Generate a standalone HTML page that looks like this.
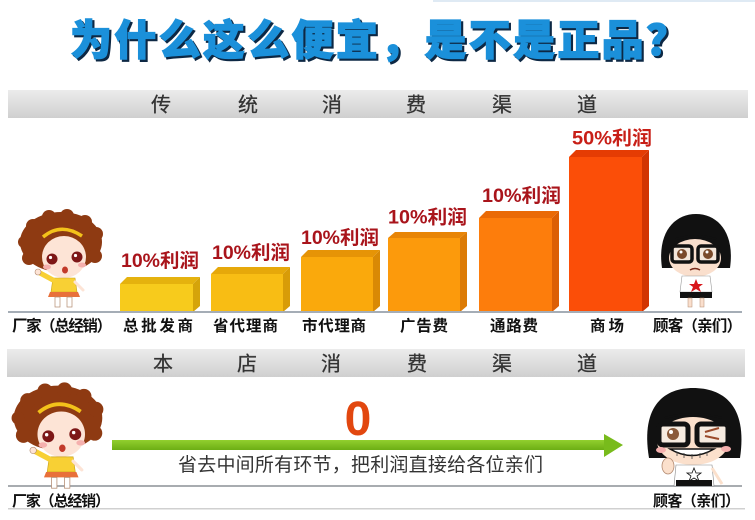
<!DOCTYPE html>
<html><head><meta charset="utf-8">
<style>
html,body{margin:0;padding:0;background:#fff;}
body{width:755px;height:520px;overflow:hidden;}
svg{display:block;}
</style></head>
<body>
<svg width="755" height="520" viewBox="0 0 755 520" xmlns="http://www.w3.org/2000/svg">
<defs>
<linearGradient id="ban" x1="0" y1="0" x2="0" y2="1">
<stop offset="0" stop-color="#ececec"/><stop offset="0.5" stop-color="#dedede"/><stop offset="1" stop-color="#cfcfcf"/>
</linearGradient>
<linearGradient id="arr" x1="0" y1="0" x2="0" y2="1">
<stop offset="0" stop-color="#92cf2e"/><stop offset="1" stop-color="#6cae14"/>
</linearGradient>
</defs>
<rect width="755" height="520" fill="#fff"/>
<rect x="433" y="0" width="322" height="2" fill="#dfeaf4"/>

<!-- Title -->
<g font-family="'Noto Sans CJK SC','WenQuanYi Zen Hei',sans-serif" font-weight="900" font-size="42">
<text x="72" y="57" textLength="618" lengthAdjust="spacing" fill="#0d2844" stroke="#0d2844" stroke-width="1.5">为什么这么便宜，是不是正品？</text>
<text x="70" y="55" textLength="618" lengthAdjust="spacing" fill="#1b90da" stroke="#1b90da" stroke-width="1.2">为什么这么便宜，是不是正品？</text>
</g>

<!-- Banner 1 -->
<rect x="8" y="90" width="740" height="28" fill="url(#ban)"/>
<g font-family="'Noto Sans CJK SC',sans-serif" font-size="20" fill="#333" text-anchor="middle" stroke="#333" stroke-width="0.3">
<text x="161" y="111.5">传</text><text x="248" y="111.5">统</text><text x="332" y="111.5">消</text>
<text x="416" y="111.5">费</text><text x="502" y="111.5">渠</text><text x="587" y="111.5">道</text>
</g>

<!-- Bars -->
<g>
<rect x="120" y="284" width="73" height="28" fill="#f7cb1c"/>
<polygon points="120,284 127,277 200,277 193,284" fill="#e5b20e"/>
<polygon points="193,284 200,277 200,306 193,312" fill="#d5a40a"/>

<rect x="211" y="274" width="72" height="38" fill="#f8bd14"/>
<polygon points="211,274 218,267 290,267 283,274" fill="#e6a80a"/>
<polygon points="283,274 290,267 290,306 283,312" fill="#d89c08"/>

<rect x="301" y="257" width="72" height="55" fill="#faa90c"/>
<polygon points="301,257 308,250 380,250 373,257" fill="#e69406"/>
<polygon points="373,257 380,250 380,306 373,312" fill="#d98905"/>

<rect x="388" y="238" width="72" height="74" fill="#fc9a0c"/>
<polygon points="388,238 395,232 467,232 460,238" fill="#e88506"/>
<polygon points="460,238 467,232 467,306 460,312" fill="#dc7b05"/>

<rect x="479" y="218" width="73" height="94" fill="#fd7d0c"/>
<polygon points="479,218 486,211 559,211 552,218" fill="#ea6a06"/>
<polygon points="552,218 559,211 559,306 552,312" fill="#dc5f05"/>

<rect x="569" y="157" width="73" height="155" fill="#fb4e08"/>
<polygon points="569,157 576,150 649,150 642,157" fill="#e53c03"/>
<polygon points="642,157 649,150 649,306 642,312" fill="#d23402"/>
</g>

<!-- Bar labels -->
<g font-family="'Liberation Sans','Noto Sans CJK SC',sans-serif" font-weight="bold" font-size="19" fill="#a9141b">
<text x="121" y="267" textLength="78" lengthAdjust="spacingAndGlyphs">10%利润</text>
<text x="212" y="259" textLength="78" lengthAdjust="spacingAndGlyphs">10%利润</text>
<text x="301" y="244" textLength="78" lengthAdjust="spacingAndGlyphs">10%利润</text>
<text x="388" y="223.5" textLength="79" lengthAdjust="spacingAndGlyphs">10%利润</text>
<text x="482" y="202" textLength="79" lengthAdjust="spacingAndGlyphs">10%利润</text>
<text x="572" y="144.5" textLength="80" lengthAdjust="spacingAndGlyphs" fill="#c81f17">50%利润</text>
</g>

<!-- baseline 1 -->
<rect x="8" y="311" width="734" height="2" fill="#a5adb6"/>

<!-- Bottom labels row 1 -->
<g font-family="'Noto Sans CJK SC',sans-serif" font-weight="bold" font-size="15.5" fill="#111">
<text x="12" y="331" textLength="100" lengthAdjust="spacing">厂家（总经销）</text>
<text x="123" y="331" textLength="70" lengthAdjust="spacing">总批发商</text>
<text x="213" y="331" textLength="65" lengthAdjust="spacing">省代理商</text>
<text x="302" y="331" textLength="64" lengthAdjust="spacing">市代理商</text>
<text x="400" y="331" textLength="48" lengthAdjust="spacing">广告费</text>
<text x="490" y="331" textLength="48" lengthAdjust="spacing">通路费</text>
<text x="590" y="331" textLength="34" lengthAdjust="spacing">商场</text>
<text x="653" y="331" textLength="89" lengthAdjust="spacing">顾客（亲们）</text>
</g>

<!-- Banner 2 -->
<rect x="7" y="349" width="738" height="28" fill="url(#ban)"/>
<g font-family="'Noto Sans CJK SC',sans-serif" font-size="20" fill="#333" text-anchor="middle" stroke="#333" stroke-width="0.3">
<text x="163" y="370.5">本</text><text x="247" y="370.5">店</text><text x="331" y="370.5">消</text>
<text x="417" y="370.5">费</text><text x="502" y="370.5">渠</text><text x="587" y="370.5">道</text>
</g>

<!-- Zero -->
<text x="358" y="435" text-anchor="middle" font-family="'Liberation Sans',sans-serif" font-weight="bold" font-size="48" fill="#e2470f">0</text>

<!-- Arrow -->
<rect x="112" y="440" width="494" height="10" fill="url(#arr)"/>
<polygon points="604,434 623,445 604,457" fill="#78bb1c"/>

<text x="178" y="471" textLength="365" lengthAdjust="spacing" font-family="'Noto Sans CJK SC',sans-serif" font-size="19" fill="#333">省去中间所有环节，把利润直接给各位亲们</text>

<!-- baseline 2 -->
<rect x="8" y="485" width="734" height="2" fill="#a8acb0"/>
<rect x="8" y="508" width="737" height="1.5" fill="#d0d0d0"/>

<g font-family="'Noto Sans CJK SC',sans-serif" font-weight="bold" font-size="15" fill="#111">
<text x="12" y="506" textLength="98" lengthAdjust="spacing">厂家（总经销）</text>
<text x="653" y="506" textLength="87" lengthAdjust="spacing">顾客（亲们）</text>
</g>

<!-- Left girl -->
<g id="lg" transform="translate(61,242)">
  <ellipse cx="0" cy="0" rx="41" ry="30" fill="#8e3a12"/>
  <circle cx="-28" cy="-16" r="7" fill="#8e3a12"/><circle cx="-12" cy="-25" r="7" fill="#8e3a12"/>
  <circle cx="6" cy="-26" r="7" fill="#8e3a12"/><circle cx="24" cy="-20" r="7" fill="#8e3a12"/>
  <circle cx="35" cy="-8" r="7" fill="#8e3a12"/><circle cx="-37" cy="0" r="6" fill="#8e3a12"/>
  <circle cx="-32" cy="16" r="7" fill="#8e3a12"/><circle cx="34" cy="14" r="7" fill="#8e3a12"/>
  <ellipse cx="3" cy="15" rx="22" ry="21" fill="#fde4d6"/>
  <path d="M-18,-5 Q0,-20 21,-6" fill="none" stroke="#f3c21a" stroke-width="3.5"/>
  <circle cx="-9" cy="17" r="5.5" fill="#7d1717"/><circle cx="16" cy="15" r="5.5" fill="#7d1717"/>
  <circle cx="-10.5" cy="15.5" r="1.6" fill="#fff"/><circle cx="14.5" cy="13.5" r="1.6" fill="#fff"/>
  <ellipse cx="-14" cy="25" rx="4" ry="2.5" fill="#f5b0ae"/><ellipse cx="21" cy="23" rx="4" ry="2.5" fill="#f5b0ae"/>
  <ellipse cx="4" cy="28" rx="3" ry="3.5" fill="#c23a2a"/>
  <path d="M-8,36 L14,36 L16,50 L-10,50 Z" fill="#f8d034" stroke="#c9a21c" stroke-width="0.6"/>
  <path d="M-8,38 L-21,31" stroke="#f8d034" stroke-width="5" stroke-linecap="round"/>
  <circle cx="-23" cy="30" r="3" fill="#fde4d6" stroke="#b38a70" stroke-width="0.6"/>
  <path d="M14,40 L22,48" stroke="#fde4d6" stroke-width="3" stroke-linecap="round"/>
  <path d="M-11,50 L17,50 L19,55 L-13,55 Z" fill="#e8703a"/>
  <rect x="-6" y="55" width="5" height="10" fill="#fff" stroke="#b38a70" stroke-width="0.7"/>
  <rect x="6" y="55" width="5" height="10" fill="#fff" stroke="#b38a70" stroke-width="0.7"/>
</g>
<use href="#lg" transform="translate(-3,176) translate(61,242) scale(1.08) translate(-61,-242)"/>

<!-- Top right girl (sad) -->
<g transform="translate(696,241)">
  <path d="M-34,27 C-39,-8 -22,-27 0,-27 C22,-27 39,-8 34,27 Z" fill="#111"/>
  <ellipse cx="-1" cy="17" rx="26" ry="19" fill="#fadfcd"/>
  <path d="M-20,-2 Q-1,-8 20,-2" stroke="#111" stroke-width="2" fill="none"/>
  <rect x="-24" y="5" width="20" height="16" rx="3" fill="#f3e6da" stroke="#111" stroke-width="3.5"/>
  <rect x="2" y="5" width="20" height="16" rx="3" fill="#f3e6da" stroke="#111" stroke-width="3.5"/>
  <circle cx="-14" cy="13" r="5" fill="#7a4a2a"/><circle cx="12" cy="13" r="5" fill="#7a4a2a"/>
  <circle cx="-15" cy="11" r="1.5" fill="#fff"/><circle cx="11" cy="11" r="1.5" fill="#fff"/>
  <path d="M-6,29 Q-1,26 4,29" stroke="#7a2a1a" stroke-width="1.5" fill="none"/>
  <path d="M-14,35 L14,35 L16,51 L-16,51 Z" fill="#fff" stroke="#999" stroke-width="0.6"/>
  <polygon points="0,38 2,43 7,43 3,46 5,51 0,48 -5,51 -3,46 -7,43 -2,43" fill="#d8161b"/>
  <rect x="-16" y="51" width="32" height="6" fill="#111"/>
  <rect x="-8" y="57" width="4" height="9" fill="#fadfcd" stroke="#b38a70" stroke-width="0.5"/>
  <rect x="4" y="57" width="4" height="9" fill="#fadfcd" stroke="#b38a70" stroke-width="0.5"/>
</g>

<!-- Bottom right girl (wink) -->
<g>
  <path d="M649,458 C640,404 666,388 693,388 C722,388 748,404 740,458 Z" fill="#111"/>
  <ellipse cx="693" cy="441" rx="36" ry="24" fill="#fbe0cc"/>
  <path d="M665,418 Q693,410 722,418" stroke="#111" stroke-width="2" fill="none"/>
  <rect x="659" y="424" width="29" height="21" rx="4" fill="#f6ebe0" stroke="#111" stroke-width="5"/>
  <rect x="697" y="424" width="31" height="21" rx="4" fill="#f6ebe0" stroke="#111" stroke-width="5"/>
  <circle cx="673" cy="434" r="6" fill="#8a5a3a"/><circle cx="671" cy="432" r="2" fill="#fff"/>
  <path d="M705,432 L719,428 M705,436 L719,439" stroke="#9a4a2a" stroke-width="2" fill="none"/>
  <ellipse cx="661" cy="450" rx="5" ry="3" fill="#f5b0ae"/><ellipse cx="726" cy="449" rx="5" ry="3" fill="#f5b0ae"/>
  <path d="M670,449 Q692,462 714,449 Z" fill="#fff" stroke="#111" stroke-width="1.5"/>
  <path d="M677,452 L677,456 M684,453 L684,458 M692,454 L692,459 M700,453 L700,458 M707,452 L707,456" stroke="#444" stroke-width="0.8"/>
  <path d="M676,465 L712,465 L714,486 L674,486 Z" fill="#fff" stroke="#888" stroke-width="0.6"/>
  <polygon points="694,468 696,473 701,473 697,476 699,481 694,478 689,481 691,476 687,473 692,473" fill="#fff" stroke="#111" stroke-width="0.8"/>
  <rect x="676" y="480" width="36" height="6" fill="#111"/>
  <ellipse cx="668" cy="466" rx="6" ry="8" fill="#fbe0cc" stroke="#b38a70" stroke-width="0.8"/>
  <path d="M712,468 L722,484" stroke="#fbe0cc" stroke-width="3"/>
</g>
</svg>
</body></html>
